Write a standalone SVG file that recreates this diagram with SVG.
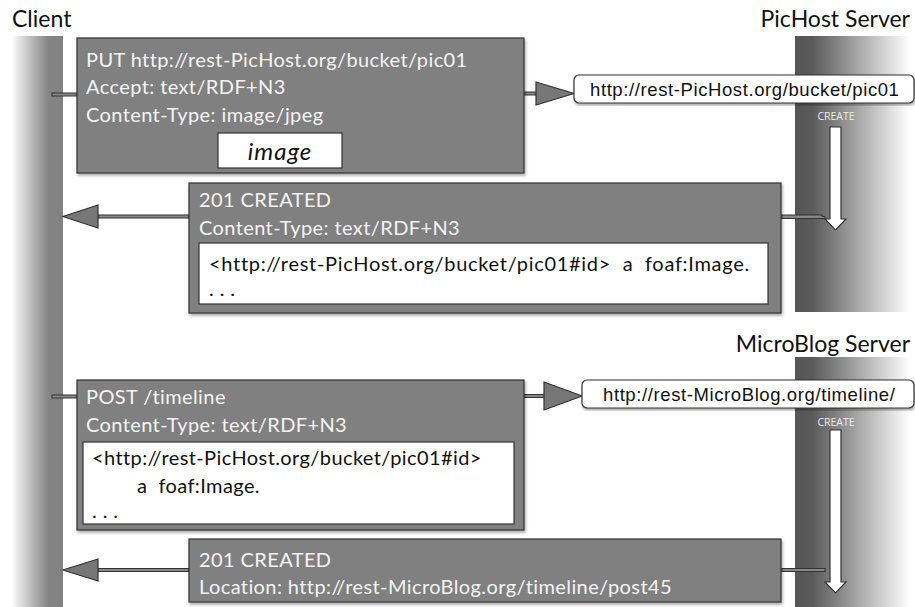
<svg xmlns="http://www.w3.org/2000/svg" width="915" height="607" viewBox="0 0 915 607">
<defs>
<linearGradient id="gClient" x1="0" y1="0" x2="1" y2="0">
<stop offset="0" stop-color="#ffffff"/>
<stop offset="0.55" stop-color="#a0a0a0"/>
<stop offset="0.72" stop-color="#858585"/>
<stop offset="1" stop-color="#808080"/>
</linearGradient>
<linearGradient id="gServer" x1="0" y1="0" x2="1" y2="0">
<stop offset="0" stop-color="#555555"/>
<stop offset="0.15" stop-color="#5a5a5a"/>
<stop offset="0.4" stop-color="#8a8a8a"/>
<stop offset="1" stop-color="#ffffff"/>
</linearGradient>
<filter id="sh" x="-5%" y="-5%" width="110%" height="115%">
<feDropShadow dx="1" dy="2" stdDeviation="1.5" flood-color="#000" flood-opacity="0.35"/>
</filter>
</defs>
<style>
.title{font-family:Lato,"Open Sans",sans-serif;font-size:23px;fill:#111}
.box{fill:#808080;stroke:#333;stroke-width:1.2}
.wt{font-family:Lato,"Open Sans",sans-serif;font-size:20px;letter-spacing:0.4px;fill:#f4f4f4}
.inner{fill:#fff;stroke:#333;stroke-width:1.2}
.bt{font-family:Lato,"Open Sans",sans-serif;font-size:20px;letter-spacing:0.4px;fill:#111;white-space:pre}
.url{fill:#fff;stroke:#333;stroke-width:1.2}
.ut{font-family:"Liberation Sans",Arial,sans-serif;font-size:18.5px;letter-spacing:0.6px;fill:#111}
.cr{font-family:"Open Sans",Lato,sans-serif;font-size:10.5px;fill:#eee}
.tri{fill:#777;stroke:#333;stroke-width:1.2;stroke-linejoin:miter}
.link{fill:#888;stroke:#333;stroke-width:1}
.down{fill:#fff;stroke:#333;stroke-width:1.2}
</style>
<rect width="915" height="607" fill="#fff"/>

<g id="client">
<rect x="11" y="36" width="52" height="571" fill="url(#gClient)"/>
<text class="title" x="12" y="27">Client</text>
</g>

<g id="pichost-server">
<rect x="795" y="36" width="115" height="276" fill="url(#gServer)"/>
<text class="title" x="910" y="27" text-anchor="end">PicHost Server</text>
</g>

<g id="microblog-server">
<rect x="795" y="357" width="115" height="250" fill="url(#gServer)"/>
<text class="title" x="910" y="352" text-anchor="end">MicroBlog Server</text>
</g>

<g id="connectors">
<rect class="link" x="52" y="93" width="25" height="3"/>
<rect class="link" x="523" y="92" width="13" height="3"/>
<polygon class="tri" points="536,82 574,93.5 536,105"/>
<rect class="link" x="98" y="215" width="91" height="3"/>
<polygon class="tri" points="98,205 63,216.5 98,228"/>
<polygon class="link" points="781,215 822,215 822,216.5 825,216.5 825,218.5 781,218.5"/>
<rect class="link" x="52" y="395" width="25" height="3"/>
<rect class="link" x="523" y="394.5" width="22" height="3"/>
<polygon class="tri" points="544,382 582,396 544,410"/>
<rect class="link" x="98" y="568.5" width="91" height="3"/>
<polygon class="tri" points="98,559 63,570 98,581"/>
<rect class="link" x="781" y="568.5" width="44" height="3"/>
</g>

<g id="create1">
<text class="cr" x="836" y="120" text-anchor="middle">CREATE</text>
<polygon class="down" points="830,127 841,127 841,219 846,219 835.5,230 825,219 830,219"/>
</g>

<g id="create2">
<text class="cr" x="836" y="426" text-anchor="middle">CREATE</text>
<polygon class="down" points="830,430 841,430 841,582 846,582 835.5,593 825,582 830,582"/>
</g>

<g id="put-request">
<rect class="box" x="77" y="38" width="447" height="135" filter="url(#sh)"/>
<text class="wt" x="86" y="67">PUT http://rest-PicHost.org/bucket/pic01</text>
<text class="wt" x="86" y="94">Accept: text/RDF+N3</text>
<text class="wt" x="86" y="122">Content-Type: image/jpeg</text>
<rect class="inner" x="218" y="133" width="124" height="35"/>
<text class="bt" x="280" y="160" text-anchor="middle" font-style="italic" style="font-size:24px;letter-spacing:1px">image</text>
</g>

<g id="pichost-url">
<rect class="url" x="574" y="75" width="340" height="28" rx="5" filter="url(#sh)"/>
<text class="ut" x="590" y="96">http://rest-PicHost.org/bucket/pic01</text>
</g>

<g id="created-response">
<rect class="box" x="189" y="183" width="592" height="130" filter="url(#sh)"/>
<text class="wt" x="199" y="207">201 CREATED</text>
<text class="wt" x="199" y="235">Content-Type: text/RDF+N3</text>
<rect class="inner" x="199" y="243" width="569" height="61"/>
<text class="bt" x="209" y="271" xml:space="preserve" style="letter-spacing:0.7px">&lt;http://rest-PicHost.org/bucket/pic01#id&gt;  a  foaf:Image.</text>
<text class="bt" x="209" y="296">. . .</text>
</g>

<g id="post-request">
<rect class="box" x="77" y="380" width="447" height="150" filter="url(#sh)"/>
<text class="wt" x="86" y="404">POST /timeline</text>
<text class="wt" x="86" y="432">Content-Type: text/RDF+N3</text>
<rect class="inner" x="83" y="442" width="431" height="82"/>
<text class="bt" x="92" y="465">&lt;http://rest-PicHost.org/bucket/pic01#id&gt;</text>
<text class="bt" x="137" y="493" xml:space="preserve">a  foaf:Image.</text>
<text class="bt" x="92" y="518">. . .</text>
</g>

<g id="microblog-url">
<rect class="url" x="582" y="380" width="332" height="28" rx="5" filter="url(#sh)"/>
<text class="ut" x="603" y="401">http://rest-MicroBlog.org/timeline/</text>
</g>

<g id="created-location">
<rect class="box" x="189" y="539" width="592" height="63" filter="url(#sh)"/>
<text class="wt" x="199" y="567">201 CREATED</text>
<text class="wt" x="199" y="594">Location: http://rest-MicroBlog.org/timeline/post45</text>
</g>
</svg>
